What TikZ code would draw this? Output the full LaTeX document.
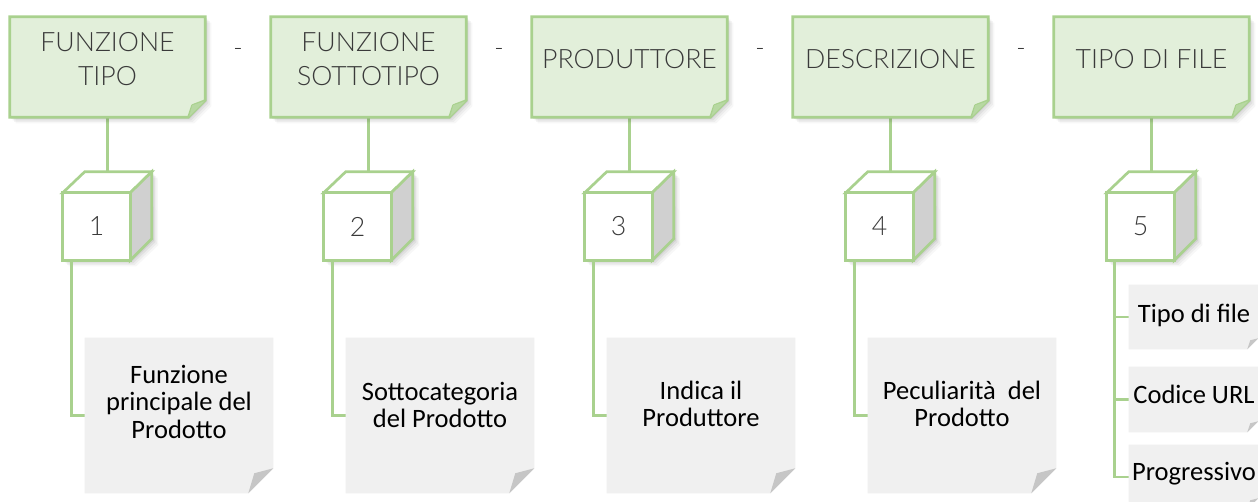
\documentclass[tikz,border=0pt]{standalone}
\usepackage{fontspec}
\setmainfont{Carlito}
\IfFontExistsTF{Lato Light}{\newfontfamily\lightfont{Lato Light}\def\lightsize{20}}{\newfontfamily\lightfont{Carlito}\def\lightsize{23.5}}
\usetikzlibrary{calc}
\definecolor{gline}{HTML}{A9D18E}
\definecolor{gfill}{HTML}{E2EFDA}
\definecolor{gfold}{HTML}{B7D8A2}
\definecolor{nfill}{HTML}{F0F0F0}
\definecolor{nfold}{HTML}{C6C6C6}
\definecolor{cside}{HTML}{D0D0D0}
\definecolor{tgray}{HTML}{3A3A3A}
\begin{document}
\begin{tikzpicture}[x=0.75pt,y=-0.75pt,
  gbox/.style={draw=gline, line width=2pt, fill=gfill, line join=miter},
  gfoldst/.style={draw=gline, line width=1.5pt, fill=gfold, line join=round},
  conn/.style={draw=gline, line width=2.2pt},
  cubest/.style={draw=gline, line width=2pt, line join=miter},
  shad/.style={fill=black, draw=none},
  boxnode/.style={shape=rectangle, inner sep=0pt, minimum width=146.25pt, minimum height=75pt},
  cubenode/.style={shape=rectangle, inner sep=0pt, minimum width=50.25pt, minimum height=50.25pt, font=\lightfont\fontsize{\lightsize}{25.5}\selectfont, text=tgray},
  notenode/.style={shape=rectangle, inner sep=0pt, minimum width=141pt, minimum height=116.25pt},
  smallnote/.style={shape=rectangle, inner sep=0pt, minimum width=96.75pt},
  toptext/.style={align=center, font=\lightfont\fontsize{\lightsize}{25.5}\selectfont, text=tgray, inner sep=0pt},
  notetext/.style={align=center, font=\fontsize{19.9}{20.6}\selectfont, text=black, inner sep=0pt},
  dashtext/.style={font=\lightfont\fontsize{19}{20}\selectfont, text=tgray, inner sep=0pt}
]
\useasboundingbox (0,0) rectangle (1258,501);
\fill[white] (0,0) rectangle (1258,501);

% ---------- top boxes and cubes ----------
\foreach \k/\ttext in {1/{FUNZIONE\\TIPO}, 2/{FUNZIONE\\SOTTOTIPO}, 3/{PRODUTTORE}, 4/{DESCRIZIONE}, 5/{TIPO DI FILE}}{
  \pgfmathsetmacro{\bx}{10+261*(\k-1)}
  \pgfmathsetmacro{\cx}{63+261*(\k-1)}
  \node[boxnode] (t\k) at (\bx+97.5,67) {};
  \node[cubenode] (c\k) at (\cx+33.5,226.5) {};
  \coordinate (ctop\k) at ($(c\k.north west)+(22,-21)$);
  % connector box -> cube
  \draw[conn] (t\k.south) -- (t\k.south |- ctop\k);
  % box shadow
  \foreach \s/\o in {1.5/0.07,3/0.05,4.5/0.04,6/0.03}{
    \fill[shad, opacity=\o] ($(t\k.north west)+(\s,\s)$) -- ($(t\k.north east)+(\s,\s)$) -- ($(t\k.south east)+(\s,\s-17)$) -- ($(t\k.south east)+(\s-17,\s)$) -- ($(t\k.south west)+(\s,\s)$) -- cycle;
  }
  % box with folded corner
  \draw[gbox] (t\k.north west) -- (t\k.north east) -- ($(t\k.south east)+(0,-17)$) -- ($(t\k.south east)+(-17,0)$) -- (t\k.south west) -- cycle;
  \draw[gfoldst] ($(t\k.south east)+(0,-17)$) -- ($(t\k.south east)+(-13,-12)$) -- ($(t\k.south east)+(-17,0)$);
  \fill[gfold] ($(t\k.south east)+(-1,-16)$) -- ($(t\k.south east)+(-13,-12)$) -- ($(t\k.south east)+(-16,-1)$) -- cycle;
  \node[toptext] (tt\k) at (\bx+97.5,59.5) {\ttext};
  % cube shadow
  \foreach \s/\o in {1.5/0.07,3/0.05,4.5/0.04,6/0.03}{
    \fill[shad, opacity=\o] ($(c\k.north west)+(\s,\s)$) -- ($(ctop\k)+(\s,\s)$) -- ($(ctop\k)+(67+\s,\s)$) -- ($(c\k.south east)+(22+\s,\s-21)$) -- ($(c\k.south east)+(\s,\s)$) -- ($(c\k.south west)+(\s,\s)$) -- cycle;
  }
  % cube faces
  \draw[cubest, fill=white] (c\k.north west) -- (ctop\k) -- ++(67,0) -- (c\k.north east) -- cycle;
  \draw[cubest, fill=cside] (c\k.north east) -- ($(ctop\k)+(67,0)$) -- ++(0,67) -- (c\k.south east) -- cycle;
  \draw[cubest, fill=white] (c\k.north west) rectangle (c\k.south east);
  \node[cubenode] (cn\k) at (c\k.center) {\k};
}

% dashes between top boxes
\foreach \k/\j in {1/2,2/3,3/4,4/5}{
  \node[dashtext] (d\k) at ($(t\k.east)!0.5!(t\j.west)+(0,-15)$) {-};
}

% ---------- grey notes 1-4 ----------
\foreach \k/\ntext/\ny in {1/{Funzione\\principale del\\Prodotto}/401.5,
    2/{Sottocategoria\\del Prodotto}/405,
    3/{Indica il\\Produttore}/404,
    4/{Peculiarità\hspace{0.45em}del\\Prodotto}/404}{
  \pgfmathsetmacro{\nx}{85+261*(\k-1)}
  \node[notenode] (n\k) at (\nx+94,415.5) {};
  \draw[conn] ($(c\k.south west)+(9,0)$) |- (n\k.west);
  \fill[nfill] (n\k.north west) -- (n\k.north east) -- ($(n\k.south east)+(0,-25)$) -- ($(n\k.south east)+(-25,0)$) -- (n\k.south west) -- cycle;
  \fill[nfold] ($(n\k.south east)+(0,-25)$) -- ($(n\k.south east)+(-19,-20)$) -- ($(n\k.south east)+(-25,0)$) -- cycle;
  \node[notetext] (nt\k) at (\nx+94,\ny) {\ntext};
}

% ---------- small notes for cube 5 ----------
\node[smallnote, minimum height=48pt] (m1) at (1193.5,317) {};
\node[smallnote, minimum height=48.75pt] (m2) at (1193.5,399.5) {};
\node[smallnote, minimum height=48pt] (m3) at (1193.5,477) {};
\foreach \m in {m1,m2,m3}{
  \draw[conn] ($(c5.south west)+(8,0)$) |- (\m.west);
  \fill[nfill] (\m.north west) -- (\m.north east) -- ($(\m.south east)+(0,-11)$) -- ($(\m.south east)+(-11,0)$) -- (\m.south west) -- cycle;
  \fill[nfold] ($(\m.south east)+(0,-11)$) -- ($(\m.south east)+(-8,-9)$) -- ($(\m.south east)+(-11,0)$) -- cycle;
}
\node[notetext, anchor=base] (mt1) at (1194,322) {Tipo di file};
\node[notetext, anchor=base] (mt2) at (1194,403) {Codice URL};
\node[notetext, anchor=base] (mt3) at (1194,480) {Progressivo};
\end{tikzpicture}
\end{document}
